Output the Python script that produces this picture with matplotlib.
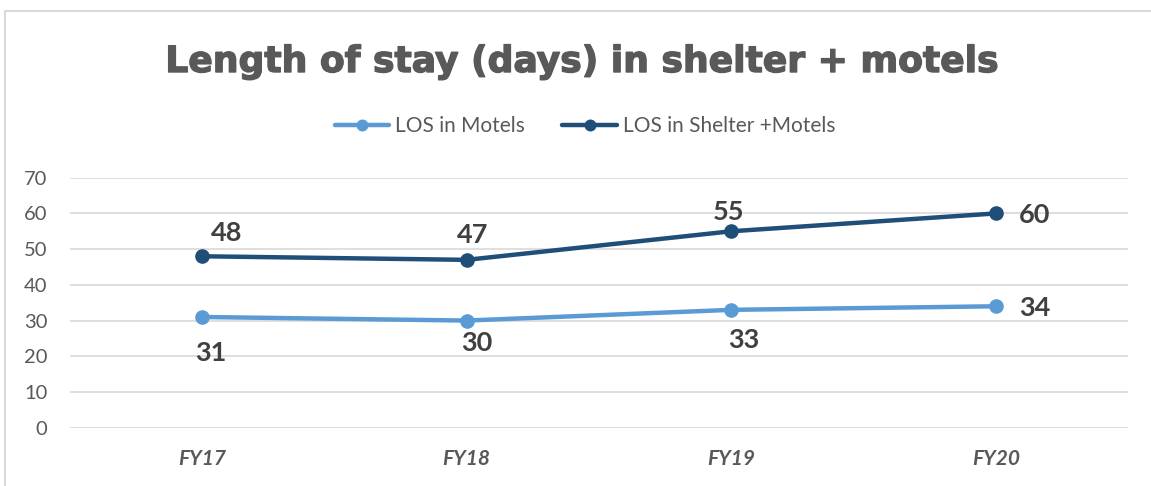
import matplotlib
matplotlib.use("Agg")
import matplotlib.pyplot as plt
from matplotlib.patches import Rectangle
import matplotlib.patheffects as pe

categories = ["FY17", "FY18", "FY19", "FY20"]
los_motels = [31, 30, 33, 34]
los_shelter_motels = [48, 47, 55, 60]
series_names = ["LOS in Motels", "LOS in Shelter +Motels"]
title = "Length of stay (days) in shelter + motels"

W, H = 1151, 486
fig = plt.figure(figsize=(W / 100, H / 100), dpi=100)
fig.patch.set_facecolor("white")

# outer chart frame
fig.patches.append(Rectangle((5 / W, -0.2), 1.2, 1 - 11 / H + 0.2,
                             transform=fig.transFigure, fill=False,
                             edgecolor="#D9D9D9", linewidth=1.5))

ax = fig.add_axes([69.7 / W, 1 - 427.7 / H, (1128.3 - 69.7) / W, (427.7 - 177.7) / H])
x = list(range(len(categories)))
light = "#5B9BD5"
dark = "#1F4E79"
l1, = ax.plot(x, los_motels, color=light, lw=3.2, marker="o", ms=9.5,
              solid_capstyle="round", label=series_names[0], zorder=3)
l2, = ax.plot(x, los_shelter_motels, color=dark, lw=3.2, marker="o", ms=9.5,
              solid_capstyle="round", label=series_names[1], zorder=3)

ax.set_xlim(-0.5, len(categories) - 0.5)
ax.set_ylim(0, 70)
ax.set_yticks(range(0, 71, 10))
ax.grid(axis="y", color="#D9D9D9", lw=1.2)
ax.set_axisbelow(True)
for s in ax.spines.values():
    s.set_visible(False)
ax.tick_params(length=0)
ax.set_xticks(x)
ax.set_xticklabels(categories, fontfamily="Lato", fontweight="bold",
                   fontstyle="italic", fontsize=15, color="#595959")
for t in ax.get_yticklabels():
    t.set_fontfamily("Lato")
    t.set_fontsize(14.5)
    t.set_color("#595959")
ax.tick_params(axis="y", pad=16)
ax.tick_params(axis="x", pad=15)

px = 0.72
off_top = [(25, 23), (6, 25), (-3, 19), (39, -2)]
off_bot = [(9, -36), (10, -22), (12, -30), (39, -2)]
for i in x:
    ax.annotate(str(los_shelter_motels[i]), (i, los_shelter_motels[i]),
                xytext=(off_top[i][0] * px, off_top[i][1] * px),
                textcoords="offset points", ha="center", va="center",
                fontfamily="Lato", fontweight="bold", fontsize=19.5, color="#404040")
    ax.annotate(str(los_motels[i]), (i, los_motels[i]),
                xytext=(off_bot[i][0] * px, off_bot[i][1] * px),
                textcoords="offset points", ha="center", va="center",
                fontfamily="Lato", fontweight="bold", fontsize=19.5, color="#404040")

fig.text(582.5 / W, 1 - 72 / H, title, ha="center", va="baseline",
         fontfamily="DejaVu Sans", fontweight="bold", fontsize=26, color="#595959",
         path_effects=[pe.withStroke(linewidth=1.0, foreground="#595959")])

fig.legend(handles=[l1, l2], loc="center", bbox_to_anchor=(585 / W, 1 - 126 / H),
           ncol=2, frameon=False, prop={"family": "Lato", "size": 15},
           handlelength=2.6, columnspacing=1.8, handletextpad=0.3,
           markerscale=0.8, labelcolor="#595959")

fig.savefig("out.png", dpi=100, facecolor="white")
